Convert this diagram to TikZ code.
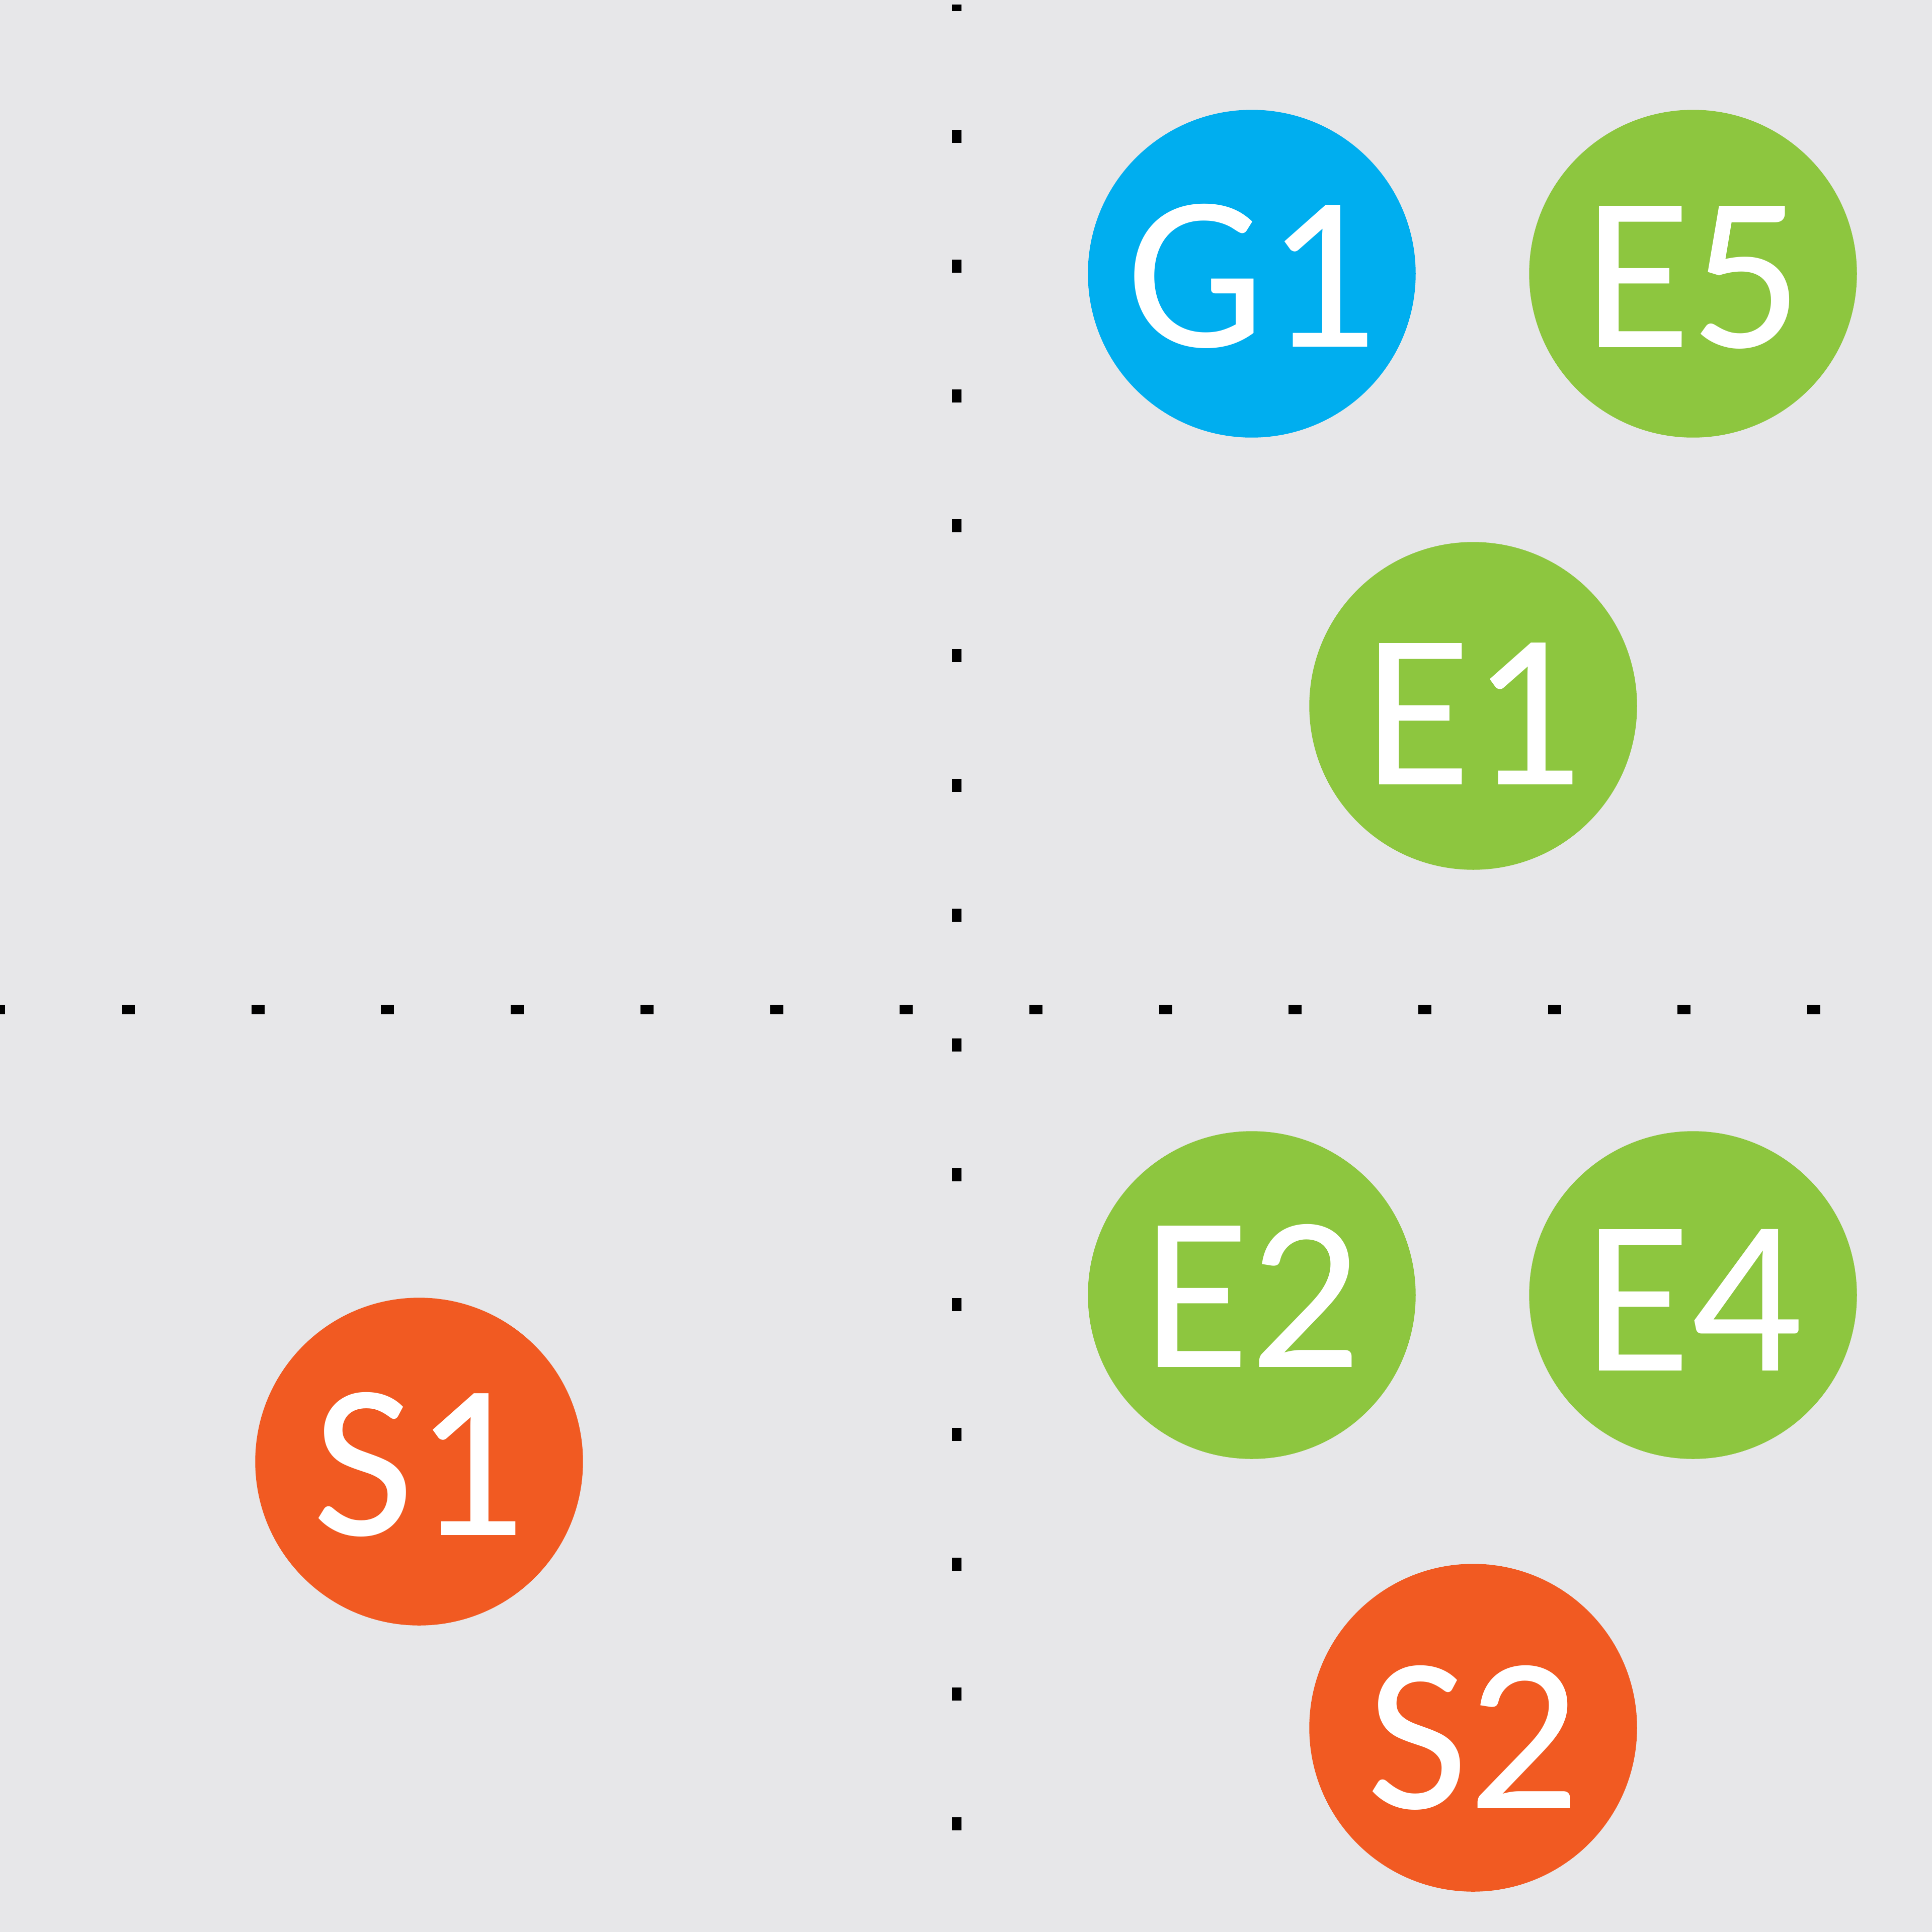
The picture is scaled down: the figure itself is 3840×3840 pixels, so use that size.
\documentclass[tikz,border=0pt]{standalone}
\usepackage{fontspec}
\setmainfont{Carlito}
\usetikzlibrary{positioning}
\definecolor{paper}{RGB}{231,231,233}
\definecolor{sky}{RGB}{0,174,239}
\definecolor{leaf}{RGB}{141,198,63}
\definecolor{rust}{RGB}{241,90,34}
\tikzset{
  stn/.style={circle,minimum size=65.15pt,inner sep=0pt,text=white,
    font=\fontsize{43.8}{43.8}\selectfont},
  gstn/.style={stn,fill=sky},
  estn/.style={stn,fill=leaf},
  sstn/.style={stn,fill=rust},
  dotmark/.style={fill=black},
}
% lower a label inside its disc, keeping the box
\newcommand\lowered[2]{\raisebox{-#1}[\height][\depth]{#2}}
\begin{document}
\begin{tikzpicture}[x=0.1pt,y=-0.1pt]
  % backdrop fixes the page
  \fill[paper] (0,0) rectangle (3840,3840);
  \clip (0,0) rectangle (3840,3840);
  % dotted axes
  \foreach \i in {-1,...,13} {
    \fill[dotmark] ({242+257.7*\i},1997) rectangle ++(26,19);
  }
  \fill[dotmark] (1892,9) rectangle (1911,22);
  \foreach \k in {1,...,14} {
    \fill[dotmark] (1892,{258*\k}) rectangle ++(19,26);
  }
  % stations
  \node[gstn] (g1) at (2488,544) {\lowered{0.5pt}{G1}};
  \node[estn] (e5) at (3365,544) {\lowered{0.7pt}{E5}};
  \node[estn] (e1) at (2928,1403) {\lowered{1.6pt}{E1}};
  \node[estn] (e2) at (2488,2574) {\lowered{0.1pt}{E2}};
  \node[estn] (e4) at (3365,2574) {\lowered{1pt}{E4}};
  \node[sstn] (s1) at (833,2905) {\lowered{0.6pt}{S1}};
  \node[sstn] (s2) at (2928,3434) {\lowered{2pt}{S2}};
\end{tikzpicture}
\end{document}
